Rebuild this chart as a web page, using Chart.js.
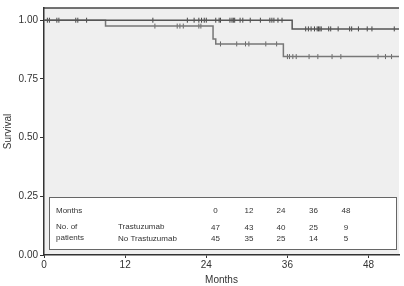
<!DOCTYPE html>
<html>
<head>
<meta charset="utf-8">
<script src="https://cdn.jsdelivr.net/npm/chart.js@4"></script>
<style>
    body { margin: 0; background: #fff; }
    canvas { display: block; }
</style>
</head>
<body>
<canvas id="kmChart" width="404" height="286"></canvas>
<script>
/**
 * Kaplan-Meier survival chart
 */

// Step curves (time in months, survival)
const trasTimes = [0, 36.7, 52.5];
const trasSurv = [1.0, 0.963, 0.963];
const noTrasTimes = [0, 9.1, 25.0, 25.4, 35.4, 52.5];
const noTrasSurv = [1.0, 0.975, 0.92, 0.899, 0.845, 0.845];

// Censored observations (months)
const trasCensor = [0.5, 0.8, 1.9, 2.2, 4.7, 5.0, 6.3, 16.1, 21.2, 22.2, 22.9, 23.3, 23.7, 24.0,
    25.4, 25.9, 26.1, 27.5, 27.8, 28.0, 28.2, 29.0, 29.4, 30.5, 32.0, 33.4, 33.7, 34.0, 34.6, 35.2,
    38.7, 39.1, 39.5, 40.0, 40.4, 40.6, 40.8, 41.0, 42.1, 42.4, 43.5, 45.2, 45.5, 46.5, 47.8, 48.5, 51.8];
const noTrasCensor = [16.4, 19.7, 20.1, 20.6, 22.9, 23.2, 26.1, 28.5, 29.8, 30.3, 32.8, 34.4,
    36.0, 36.3, 36.8, 37.3, 39.2, 40.5, 42.6, 43.9, 49.4, 50.5, 51.4];

// Axis ticks
const xTicks = [0, 12, 24, 36, 48];
const yTicks = [0, 0.25, 0.5, 0.75, 1.0];

// Number-at-risk table
const riskMonths = ['0', '12', '24', '36', '48'];
const riskTras = ['47', '43', '40', '25', '9'];
const riskNoTras = ['45', '35', '25', '14', '5'];

const FONT = 'Liberation Sans, Arial, sans-serif';

function toPoints(times, surv) {
    return times.map((t, i) => ({ x: t, y: surv[i] }));
}

// Survival level of a step curve at time t
function levelAt(times, surv, t) {
    let s = surv[0];
    times.forEach((tt, i) => { if (tt <= t) s = surv[i]; });
    return s;
}

function censorPoints(censor, times, surv) {
    return censor.map(t => ({ x: t, y: levelAt(times, surv, t) }));
}

const plotFrame = {
    id: 'plotFrame',
    beforeDraw(chart) {
        const { ctx, chartArea: a } = chart;
        ctx.save();
        ctx.fillStyle = '#efefef';
        ctx.fillRect(a.left, a.top, a.right - a.left, a.bottom - a.top);
        ctx.strokeStyle = '#444';
        ctx.lineWidth = 1.5;
        ctx.beginPath();
        ctx.moveTo(a.left, a.top);
        ctx.lineTo(a.right, a.top);
        ctx.stroke();
        ctx.restore();
    },
    afterDatasetsDraw(chart) {
        const { ctx } = chart;
        ctx.save();
        // at-risk box
        ctx.fillStyle = '#fff';
        ctx.fillRect(49.5, 197.5, 347, 52);
        ctx.strokeStyle = '#666';
        ctx.lineWidth = 1;
        ctx.strokeRect(49.5, 197.5, 347, 52);

        ctx.fillStyle = '#333';
        ctx.font = '8px ' + FONT;
        ctx.textBaseline = 'middle';
        ctx.textAlign = 'left';
        ctx.fillText('Months', 56, 211);
        ctx.fillText('No. of', 56, 227);
        ctx.fillText('patients', 56, 238);
        ctx.fillText('Trastuzumab', 118, 227);
        ctx.fillText('No Trastuzumab', 118, 239);

        const cols = [215.5, 249, 281, 313.5, 346];
        ctx.textAlign = 'center';
        cols.forEach((cx, i) => {
            ctx.fillText(riskMonths[i], cx, 211);
            ctx.fillText(riskTras[i], cx, 227.5);
            ctx.fillText(riskNoTras[i], cx, 239);
        });
        ctx.restore();
    }
};

const ctx = document.getElementById('kmChart').getContext('2d');

new Chart(ctx, {
    type: 'line',
    data: {
        datasets: [
            {
                label: 'Trastuzumab',
                data: toPoints(trasTimes, trasSurv),
                stepped: true,
                borderColor: '#555',
                borderWidth: 1.5,
                pointRadius: 0,
                fill: false
            },
            {
                label: 'No Trastuzumab',
                data: toPoints(noTrasTimes, noTrasSurv),
                stepped: true,
                borderColor: '#777',
                borderWidth: 1.5,
                pointRadius: 0,
                fill: false
            },
            {
                type: 'scatter',
                data: censorPoints(trasCensor, trasTimes, trasSurv),
                showLine: false,
                pointStyle: 'line',
                rotation: 90,
                radius: 2.5,
                borderColor: '#444',
                borderWidth: 1
            },
            {
                type: 'scatter',
                data: censorPoints(noTrasCensor, noTrasTimes, noTrasSurv),
                showLine: false,
                pointStyle: 'line',
                rotation: 90,
                radius: 2.5,
                borderColor: '#666',
                borderWidth: 1
            }
        ]
    },
    options: {
        responsive: false,
        animation: false,
        layout: { padding: { top: 1, right: 0, bottom: 0, left: 0 } },
        plugins: {
            legend: { display: false },
            tooltip: { enabled: false }
        },
        scales: {
            x: {
                type: 'linear',
                min: 0,
                max: 52.5,
                afterBuildTicks: s => { s.ticks = xTicks.map(v => ({ value: v })); },
                afterFit: s => { s.height = 31; },
                grid: { drawOnChartArea: false, tickLength: 3, color: '#333' },
                border: { color: '#333', width: 1.5 },
                ticks: {
                    color: '#333',
                    font: { family: FONT, size: 10 },
                    padding: 1,
                    maxRotation: 0
                },
                title: {
                    display: true,
                    text: 'Months',
                    color: '#333',
                    font: { family: FONT, size: 10 },
                    padding: { top: 0, bottom: 0 }
                }
            },
            y: {
                min: 0,
                max: 1.052,
                afterBuildTicks: s => { s.ticks = yTicks.map(v => ({ value: v })); },
                afterFit: s => { s.width = 44; },
                grid: { drawOnChartArea: false, tickLength: 4, color: '#333' },
                border: { color: '#333', width: 1.5 },
                ticks: {
                    color: '#333',
                    font: { family: FONT, size: 10 },
                    padding: 2,
                    callback: v => v.toFixed(2)
                },
                title: {
                    display: true,
                    text: 'Survival',
                    color: '#333',
                    font: { family: FONT, size: 10 },
                    padding: { top: 2, bottom: 0 }
                }
            }
        }
    },
    plugins: [plotFrame]
});
</script>
</body>
</html>
